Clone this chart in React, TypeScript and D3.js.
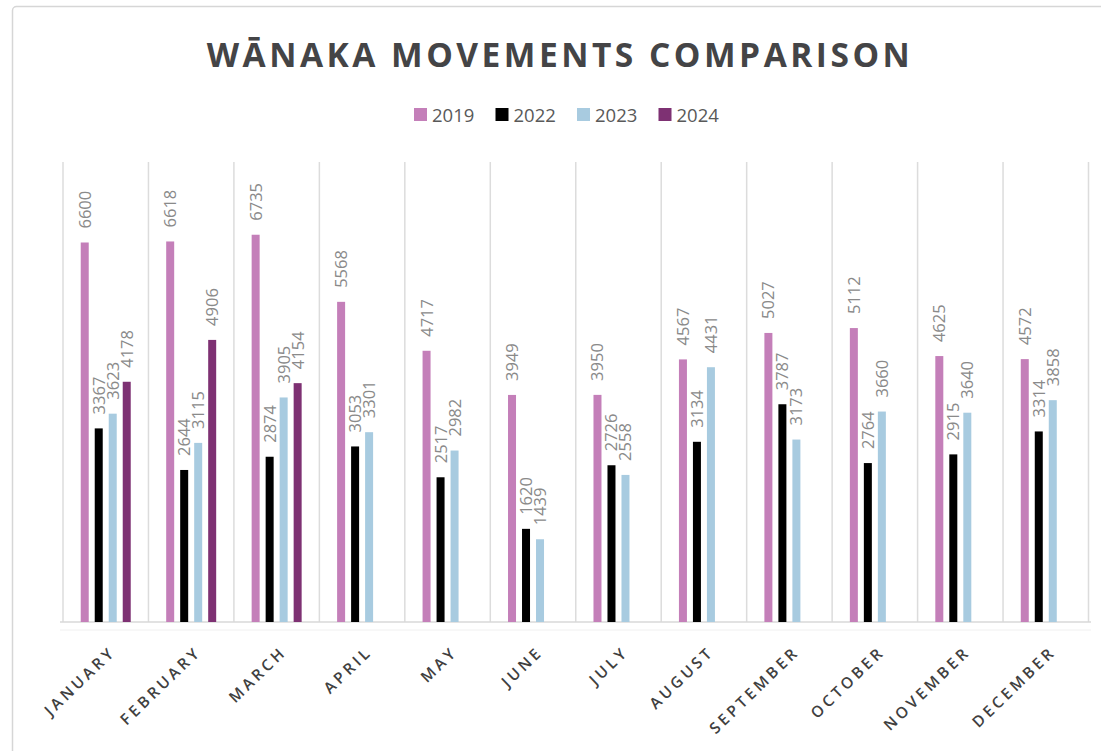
import React from "react";
import * as d3 from "d3";

const months = ["JANUARY", "FEBRUARY", "MARCH", "APRIL", "MAY", "JUNE", "JULY", "AUGUST", "SEPTEMBER", "OCTOBER", "NOVEMBER", "DECEMBER"];
const years = ["2019", "2022", "2023", "2024"];
const colors = ["#c47fb9", "#000000", "#a8cbe0", "#7e3173"];

const v2019 = [6600, 6618, 6735, 5568, 4717, 3949, 3950, 4567, 5027, 5112, 4625, 4572];
const v2022 = [3367, 2644, 2874, 3053, 2517, 1620, 2726, 3134, 3787, 2764, 2915, 3314];
const v2023 = [3623, 3115, 3905, 3301, 2982, 1439, 2558, 4431, 3173, 3660, 3640, 3858];
const v2024 = [4178, 4906, 4154, null, null, null, null, null, null, null, null, null];

const series = [v2019, v2022, v2023, v2024];

export default function App() {
  const W = 1101, H = 751;
  const left = 63, right = 1088.5, top = 162, base = 622;

  const x0 = d3.scaleBand().domain(months).range([left, right]).padding(0);
  const x1 = d3.scaleBand().domain(years).range([-25, 25]).paddingInner(6 / 14).paddingOuter(0);
  const y = d3.scaleLinear().domain([0, 8000]).range([base, top]);

  const font = "'Open Sans', sans-serif";

  // flatten into bars, skipping missing months
  const bars: { m: string; yr: string; v: number; c: string }[] = [];
  months.forEach((m, i) => {
    series.forEach((s, j) => {
      const v = s[i];
      if (v != null) bars.push({ m, yr: years[j], v, c: colors[j] });
    });
  });

  const legendX = 414;
  const legendStep = 81.5;

  return (
    <svg width={W} height={H} style={{ position: "fixed", left: 0, top: 0, background: "#fff" }}>
      <rect x={12.5} y={6.5} width={1200} height={900} rx={4} fill="#fff" stroke="#d6d6d6" strokeWidth={1.5} />

      <text x={560} y={67} textAnchor="middle" fontFamily={font} fontWeight={700} fontSize={33.5} letterSpacing={3.5} fill="#444446">
        WĀNAKA MOVEMENTS COMPARISON
      </text>

      {years.map((yr, i) => (
        <g key={yr} transform={`translate(${legendX + i * legendStep},0)`}>
          <rect x={0} y={108} width={13} height={13} fill={colors[i]} />
          <text x={18} y={122} fontFamily={font} fontSize={18.5} fill="#595959">{yr}</text>
        </g>
      ))}

      {d3.range(months.length + 1).map((i) => {
        const gx = left + i * x0.step();
        return <line key={i} x1={gx} x2={gx} y1={top} y2={base} stroke="#dcdcdc" strokeWidth={1.5} />;
      })}
      <line x1={60} x2={1091} y1={base} y2={base} stroke="#d9d9d9" strokeWidth={1.5} />
      <line x1={60} x2={1091} y1={630} y2={630} stroke="#f0f0f0" strokeWidth={1} />

      {bars.map((b, i) => {
        const bx = (x0(b.m) as number) + x0.bandwidth() / 2 + (x1(b.yr) as number);
        return (
          <g key={i}>
            <rect x={bx} y={y(b.v)} width={x1.bandwidth()} height={base - y(b.v)} fill={b.c} />
            <text
              transform={`translate(${bx + x1.bandwidth() / 2 + 6},${y(b.v) - 14}) rotate(-90)`}
              fontFamily={font}
              fontSize={16.5}
              fill="#8a8a8a"
            >
              {b.v}
            </text>
          </g>
        );
      })}

      {months.map((m) => {
        const cx = (x0(m) as number) + x0.bandwidth() / 2;
        return (
          <text
            key={m}
            transform={`translate(${cx + 11},653) rotate(-44)`}
            textAnchor="end"
            fontFamily={font}
            fontWeight={600}
            fontSize={15.5}
            letterSpacing={3.4}
            fill="#404040"
          >
            {m}
          </text>
        );
      })}
    </svg>
  );
}
